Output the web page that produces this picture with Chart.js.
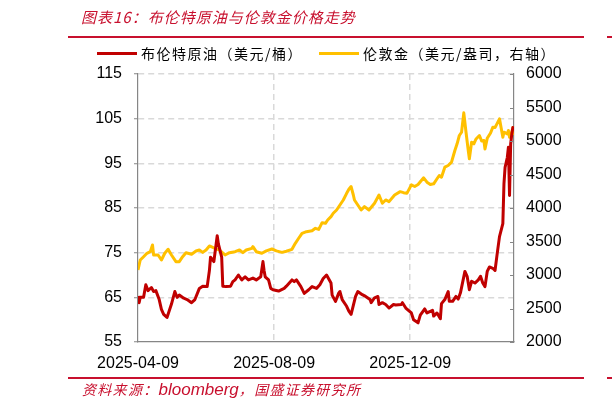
<!DOCTYPE html>
<html>
<head>
<meta charset="utf-8">
<script src="https://cdn.jsdelivr.net/npm/chart.js@4.4.1/dist/chart.umd.min.js"></script>
<style>
  body { margin: 0; background: #fff; }
  #wrap { position: relative; width: 612px; height: 410px; overflow: hidden; font-family: "Noto Sans CJK SC", sans-serif; }
  #wrap canvas { position: absolute; left: 0; top: 0; }
  .txt { position: absolute; white-space: nowrap; }
  .rule { position: absolute; height: 2px; background: #c8102e; }
  .key { position: absolute; height: 3px; width: 40px; }
  .title { left: 81px; top: 8px; font-size: 15px; line-height: 18px; font-style: italic; color: #c8102e; letter-spacing: 1px; }
  .legend { top: 44px; font-size: 14px; line-height: 18px; color: #000; letter-spacing: 1.5px; }
  .source { left: 82px; top: 380px; font-size: 14px; line-height: 18px; font-style: italic; color: #c8102e; letter-spacing: 1.3px; }
  .latin { font-family: "Liberation Sans", Arial, sans-serif; font-size: 17px; letter-spacing: 0; }
</style>
</head>
<body>
<div id="wrap">
  <canvas id="chart" width="612" height="410"></canvas>
  <div class="txt title">图表16：布伦特原油与伦敦金价格走势</div>
  <div class="rule" style="left:68px;top:36px;width:516px;"></div>
  <div class="rule" style="left:607px;top:36px;width:5px;"></div>
  <div class="key" style="left:97px;top:52px;background:#c00000;"></div>
  <div class="txt legend" style="left:141px;">布伦特原油（美元/桶）</div>
  <div class="key" style="left:319px;top:52px;background:#ffc000;"></div>
  <div class="txt legend" style="left:363px;">伦敦金（美元/盎司，右轴）</div>
  <div class="rule" style="left:68px;top:377px;width:516px;"></div>
  <div class="rule" style="left:607px;top:377px;width:5px;"></div>
  <div class="txt source">资料来源：<span class="latin">bloomberg</span>，国盛证券研究所</div>
</div>
<script>
// Brent crude, USD/bbl (left axis)
const brentDates = [
  '2025-04-09','2025-04-10','2025-04-11','2025-04-14','2025-04-16','2025-04-18','2025-04-21','2025-04-23',
  '2025-04-25','2025-04-28','2025-04-30','2025-05-02','2025-05-05','2025-05-07','2025-05-09','2025-05-12',
  '2025-05-14','2025-05-16','2025-05-20','2025-05-23','2025-05-27','2025-05-30','2025-06-03','2025-06-06',
  '2025-06-10','2025-06-12','2025-06-13','2025-06-16','2025-06-19','2025-06-20','2025-06-23','2025-06-24',
  '2025-06-27','2025-07-01','2025-07-03','2025-07-05','2025-07-08','2025-07-11','2025-07-14','2025-07-17',
  '2025-07-21','2025-07-24','2025-07-28','2025-07-30','2025-07-31','2025-08-01','2025-08-04','2025-08-06',
  '2025-08-08','2025-08-13','2025-08-18','2025-08-20','2025-08-25','2025-08-27','2025-08-29','2025-09-02',
  '2025-09-05','2025-09-09','2025-09-12','2025-09-16','2025-09-19','2025-09-22','2025-09-25','2025-09-29',
  '2025-09-30','2025-10-03','2025-10-06','2025-10-07','2025-10-09','2025-10-13','2025-10-15','2025-10-17',
  '2025-10-21','2025-10-23','2025-10-27','2025-10-30','2025-11-03','2025-11-04','2025-11-07','2025-11-10',
  '2025-11-11','2025-11-14','2025-11-17','2025-11-20','2025-11-24','2025-11-26','2025-12-01','2025-12-02',
  '2025-12-05','2025-12-10','2025-12-12','2025-12-16','2025-12-18','2025-12-22','2025-12-24','2025-12-29',
  '2025-12-30','2026-01-02','2026-01-05','2026-01-06','2026-01-09','2026-01-12','2026-01-13','2026-01-16',
  '2026-01-19','2026-01-21','2026-01-23','2026-01-27','2026-01-29','2026-01-31','2026-02-02','2026-02-05',
  '2026-02-08','2026-02-10','2026-02-12','2026-02-14','2026-02-16','2026-02-18','2026-02-21','2026-02-23',
  '2026-02-25','2026-02-27','2026-03-02','2026-03-03','2026-03-04','2026-03-06','2026-03-07','2026-03-08',
  '2026-03-09','2026-03-10','2026-03-11','2026-03-12'
];
const brentPrices = [
  65.3, 63.8, 65.0, 65.0, 67.8, 66.5, 67.2, 66.3,
  66.5, 64.5, 62.3, 61.2, 60.5, 62.0, 63.5, 66.3,
  65.0, 65.5, 64.8, 64.5, 63.8, 64.5, 67.0, 67.5,
  67.4, 71.0, 74.0, 73.0, 78.8, 77.0, 74.0, 67.5,
  67.4, 67.5, 68.5, 68.9, 70.0, 68.9, 69.6, 68.9,
  69.3, 68.9, 69.6, 73.0, 71.0, 69.6, 68.9, 67.0,
  66.7, 66.4, 67.0, 67.5, 68.9, 68.5, 68.9, 67.4,
  65.9, 66.7, 67.4, 67.0, 67.8, 69.2, 70.0, 68.2,
  65.5, 64.1, 66.0, 66.3, 64.5, 63.0, 61.9, 61.2,
  65.2, 66.3, 65.6, 65.2, 64.5, 63.8, 64.9, 65.2,
  63.4, 63.8, 63.4, 62.6, 63.4, 63.3, 63.4, 63.8,
  62.6, 61.5, 60.0, 59.3, 61.0, 62.4, 61.5, 62.1,
  60.8, 61.5, 60.2, 63.6, 64.5, 66.3, 64.1, 64.1,
  65.2, 64.6, 66.0, 70.8, 69.7, 66.7, 68.6, 68.2,
  68.9, 69.7, 68.2, 67.4, 70.8, 71.8, 71.5, 71.0,
  74.9, 78.6, 81.5, 90.4, 94.1, 96.3, 98.6, 87.8,
  99.3, 101.5, 103.0, 102.8
];

// London gold, USD/oz (right axis)
const goldDates = [
  '2025-04-09','2025-04-11','2025-04-14','2025-04-17','2025-04-20','2025-04-22','2025-04-23','2025-04-27',
  '2025-04-30','2025-05-03','2025-05-06','2025-05-09','2025-05-13','2025-05-16','2025-05-19','2025-05-22',
  '2025-05-27','2025-05-31','2025-06-03','2025-06-06','2025-06-09','2025-06-12','2025-06-17','2025-06-21',
  '2025-06-26','2025-06-30','2025-07-05','2025-07-09','2025-07-12','2025-07-15','2025-07-20','2025-07-21',
  '2025-07-24','2025-07-29','2025-08-02','2025-08-07','2025-08-11','2025-08-16','2025-08-20','2025-08-25',
  '2025-08-28','2025-08-31','2025-09-03','2025-09-07','2025-09-12','2025-09-15','2025-09-18','2025-09-21',
  '2025-09-24','2025-09-26','2025-09-29','2025-10-01','2025-10-04','2025-10-07','2025-10-10','2025-10-13',
  '2025-10-15','2025-10-17','2025-10-19','2025-10-20','2025-10-23','2025-10-26','2025-10-29','2025-11-02',
  '2025-11-07','2025-11-11','2025-11-14','2025-11-17','2025-11-20','2025-11-25','2025-11-30','2025-12-03',
  '2025-12-06','2025-12-10','2025-12-13','2025-12-16','2025-12-21','2025-12-24','2025-12-27','2025-12-30',
  '2026-01-02','2026-01-04','2026-01-06','2026-01-09','2026-01-12','2026-01-15','2026-01-18','2026-01-20',
  '2026-01-22','2026-01-24','2026-01-26','2026-01-28','2026-01-30','2026-01-31','2026-02-02','2026-02-04',
  '2026-02-06','2026-02-09','2026-02-11','2026-02-13','2026-02-14','2026-02-16','2026-02-19','2026-02-21',
  '2026-02-23','2026-02-27','2026-03-02','2026-03-03','2026-03-06','2026-03-07','2026-03-08','2026-03-10',
  '2026-03-11','2026-03-12'
];
const goldPrices = [
  3075, 3224, 3273, 3324, 3348, 3448, 3299, 3299,
  3224, 3324, 3384, 3299, 3199, 3199, 3273, 3333,
  3310, 3358, 3373, 3338, 3373, 3433, 3398, 3373,
  3299, 3333, 3348, 3373, 3333, 3373, 3398, 3423,
  3348, 3324, 3360, 3388, 3360, 3338, 3355, 3383,
  3473, 3548, 3622, 3647, 3660, 3697, 3680, 3781,
  3771, 3821, 3871, 3921, 3970, 4045, 4120, 4219,
  4279, 4320, 4194, 4120, 4045, 3970, 4020, 3970,
  4070, 4194, 4070, 4120, 4095, 4194, 4244, 4229,
  4219, 4345, 4321, 4351, 4451, 4385, 4351, 4361,
  4436, 4485, 4460, 4609, 4634, 4684, 4858, 4958,
  5082, 5131, 5420, 5131, 4858, 4734, 4982, 4958,
  5030, 5082, 5000, 5007, 4880, 5040, 5120, 5206,
  5200, 5330, 5057, 5131, 5107, 5157, 5057, 5130,
  5200, 5090
];

const startDate = '2025-04-09';
const endDate = '2026-03-12';
const xTickDates = ['2025-04-09', '2025-08-09', '2025-12-09'];
const leftTicks = [55, 65, 75, 85, 95, 105, 115];
const rightTicks = [2000, 2500, 3000, 3500, 4000, 4500, 5000, 5500, 6000];

const dayOf = s => (Date.parse(s) - Date.parse(startDate)) / 86400000;

const axisGrey = '#868686';
const gridGrey = '#d9d9d9';
const tickFont = { family: '"Liberation Sans", Arial, sans-serif', size: 16 };

// short inward ticks on the right axis
const rightTickMarks = {
  id: 'rightTickMarks',
  afterDraw(chart) {
    const s = chart.scales.y1;
    const ctx = chart.ctx;
    ctx.save();
    ctx.strokeStyle = axisGrey;
    ctx.lineWidth = 1;
    s.ticks.forEach(t => {
      const y = Math.round(s.getPixelForValue(t.value)) + 0.5;
      ctx.beginPath();
      ctx.moveTo(s.left - 4, y);
      ctx.lineTo(s.left, y);
      ctx.stroke();
    });
    ctx.restore();
  }
};

new Chart(document.getElementById('chart'), {
  type: 'line',
  data: {
    datasets: [
      {
        label: '布伦特原油（美元/桶）',
        data: brentDates.map((d, i) => ({ x: dayOf(d), y: brentPrices[i] })),
        yAxisID: 'y',
        borderColor: '#c00000',
        borderWidth: 3,
        pointRadius: 0,
        tension: 0,
        borderJoinStyle: 'round'
      },
      {
        label: '伦敦金（美元/盎司，右轴）',
        data: goldDates.map((d, i) => ({ x: dayOf(d), y: goldPrices[i] })),
        yAxisID: 'y1',
        borderColor: '#ffc000',
        borderWidth: 3,
        pointRadius: 0,
        tension: 0,
        borderJoinStyle: 'round'
      }
    ]
  },
  options: {
    responsive: false,
    animation: false,
    devicePixelRatio: 1,
    layout: { padding: { top: 74, left: 0, right: 0, bottom: 0 } },
    plugins: {
      legend: { display: false },
      tooltip: { enabled: false }
    },
    scales: {
      x: {
        type: 'linear',
        min: 0,
        max: dayOf(endDate),
        afterBuildTicks: scale => { scale.ticks = xTickDates.map(d => ({ value: dayOf(d) })); },
        afterFit: scale => { scale.height = 68; },
        ticks: {
          autoSkip: false,
          maxRotation: 0,
          padding: 12,
          color: '#000',
          font: tickFont,
          callback: (v, i) => xTickDates[i]
        },
        grid: {
          drawTicks: false,
          lineWidth: 1.5,
          color: c => (c.tick && c.tick.value === 0 ? 'rgba(0,0,0,0)' : gridGrey)
        },
        border: { color: axisGrey, width: 1.2, dash: [6, 4] }
      },
      y: {
        position: 'left',
        min: 55,
        max: 115,
        afterBuildTicks: scale => { scale.ticks = leftTicks.map(v => ({ value: v })); },
        afterFit: scale => { scale.width = 138; },
        ticks: { padding: 12, color: '#000', font: tickFont, callback: v => String(v) },
        grid: {
          lineWidth: 1.5,
          color: c => (c.tick && c.tick.value === 55 ? 'rgba(0,0,0,0)' : gridGrey),
          tickLength: 4,
          tickColor: axisGrey,
          tickWidth: 1,
          tickBorderDash: []
        },
        border: { color: axisGrey, width: 1.2, dash: [6, 4] }
      },
      y1: {
        position: 'right',
        min: 2000,
        max: 6000,
        afterBuildTicks: scale => { scale.ticks = rightTicks.map(v => ({ value: v })); },
        afterFit: scale => { scale.width = 98; },
        ticks: { padding: 12, color: '#000', font: tickFont, callback: v => String(v) },
        grid: { drawOnChartArea: false, drawTicks: false },
        border: { color: axisGrey, width: 1.2 }
      }
    }
  },
  plugins: [rightTickMarks]
});
</script>
</body>
</html>
